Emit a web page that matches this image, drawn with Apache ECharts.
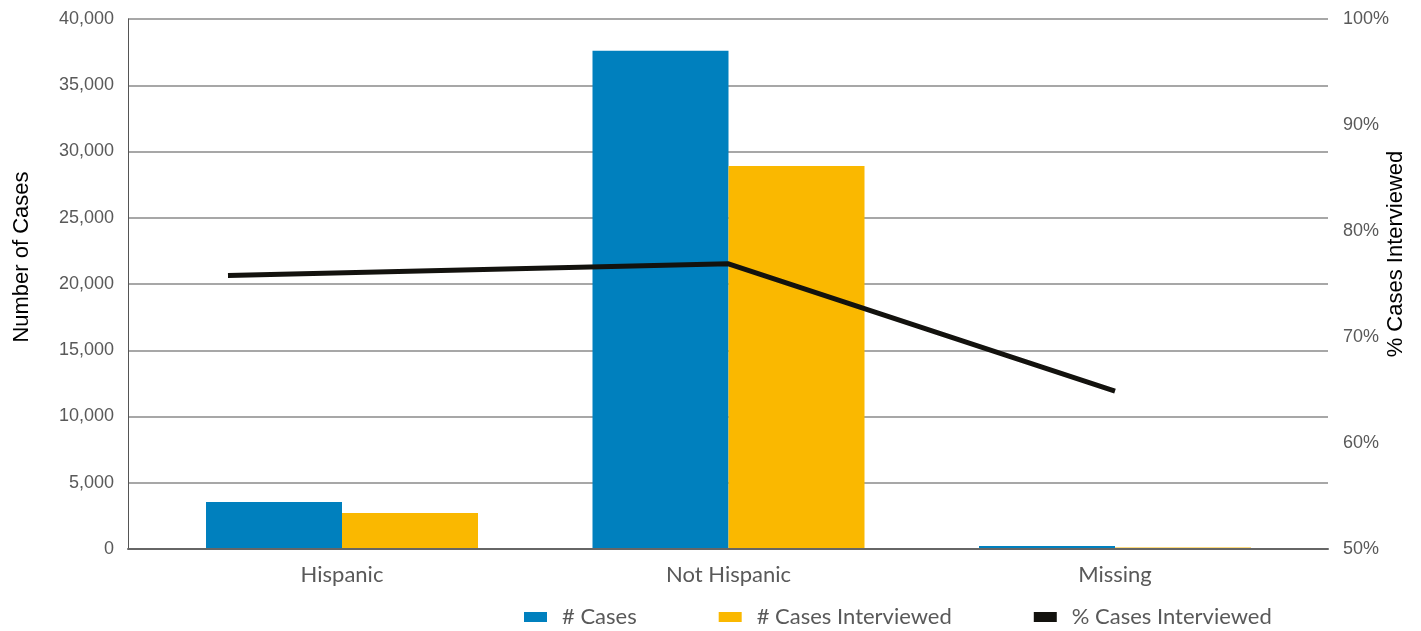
<!DOCTYPE html>
<html>
<head>
<meta charset="utf-8">
<script src="https://cdn.jsdelivr.net/npm/echarts@6/dist/echarts.min.js"></script>
<style>html,body{margin:0;padding:0;background:#fff}#c{width:1421px;height:631px}</style>
</head>
<body>
<div id="c"></div>
<script>
var categories = ['Hispanic', 'Not Hispanic', 'Missing'];
var cases = [3550, 37600, 230];
var casesInterviewed = [2720, 28900, 110];
var pctInterviewed = [75.8, 76.9, 64.9];
// x positions (in category index units) of the line's points, as drawn in the source
var pctX = [-0.295, 1, 2];
var leftTicks = [0, 5000, 10000, 15000, 20000, 25000, 30000, 35000, 40000];
var rightTicks = [50, 60, 70, 80, 90, 100];

var chart = echarts.init(document.getElementById('c'), null, {renderer: 'canvas'});
var labelFont = 'Lato';
chart.setOption({
  animation: false,
  grid: {left: 128, right: 93, top: 19, bottom: 82, containLabel: false, outerBoundsMode: 'none'},
  legend: {
    left: 519, top: 601,
    itemWidth: 23, itemHeight: 10, itemGap: 82,
    textStyle: {fontFamily: labelFont, fontSize: 22, color: '#595959', padding: [0, 0, 0, 10]},
    data: [
      {name: '# Cases', icon: 'rect'},
      {name: '# Cases Interviewed', icon: 'rect'},
      {name: '% Cases Interviewed', icon: 'rect'}
    ]
  },
  xAxis: {
    type: 'value',
    min: -0.5537, max: 2.5511,
    z: 5,
    splitLine: {show: false},
    axisLine: {show: true, onZero: false, lineStyle: {color: '#666', width: 2}},
    axisTick: {show: false},
    axisLabel: {
      customValues: [0, 1, 2],
      formatter: function (v) { return categories[Math.round(v)]; },
      fontFamily: labelFont, fontSize: 22, color: '#595959', margin: 15
    }
  },
  yAxis: [{
    type: 'value', min: 0, max: 40000, interval: 5000,
    name: 'Number of Cases', nameLocation: 'middle', nameGap: 95, nameRotate: 90,
    nameTextStyle: {fontFamily: 'Liberation Sans', fontSize: 22, color: '#000', padding: [0, 0, 0, 54]},
    axisLine: {show: true, onZero: false, lineStyle: {color: '#555', width: 1}},
    axisTick: {show: false},
    axisLabel: {fontFamily: 'Liberation Sans', fontSize: 18, color: '#595959', margin: 14,
      formatter: function (v) { return v.toLocaleString('en-US'); }},
    splitLine: {show: true, lineStyle: {color: '#8a8a8a', width: 1.5}}
  }, {
    type: 'value', min: 50, max: 100, interval: 10, position: 'right',
    name: '% Cases Interviewed', nameLocation: 'middle', nameGap: 57, nameRotate: 90,
    nameMoveOverlap: false,
    nameTextStyle: {fontFamily: 'Liberation Sans', fontSize: 22, color: '#000', padding: [0, 0, 0, 60]},
    axisLine: {show: false, onZero: false},
    axisTick: {show: false},
    axisLabel: {fontFamily: 'Liberation Sans', fontSize: 18, color: '#595959', margin: 15,
      formatter: function (v) { return v + '%'; }},
    splitLine: {show: false}
  }],
  series: [{
    name: '# Cases', type: 'bar', barWidth: 136, barGap: '0%',
    itemStyle: {color: '#0080BE'},
    data: cases.map(function (v, i) { return [i, v]; })
  }, {
    name: '# Cases Interviewed', type: 'bar', barWidth: 136, barGap: '0%',
    itemStyle: {color: '#FAB800'},
    data: casesInterviewed.map(function (v, i) { return [i, v]; })
  }, {
    name: '% Cases Interviewed', type: 'line', yAxisIndex: 1, z: 6,
    symbol: 'none', lineStyle: {color: '#13120e', width: 5}, itemStyle: {color: '#13120e'},
    data: pctInterviewed.map(function (v, i) { return [pctX[i], v]; })
  }]
});
</script>
</body>
</html>
